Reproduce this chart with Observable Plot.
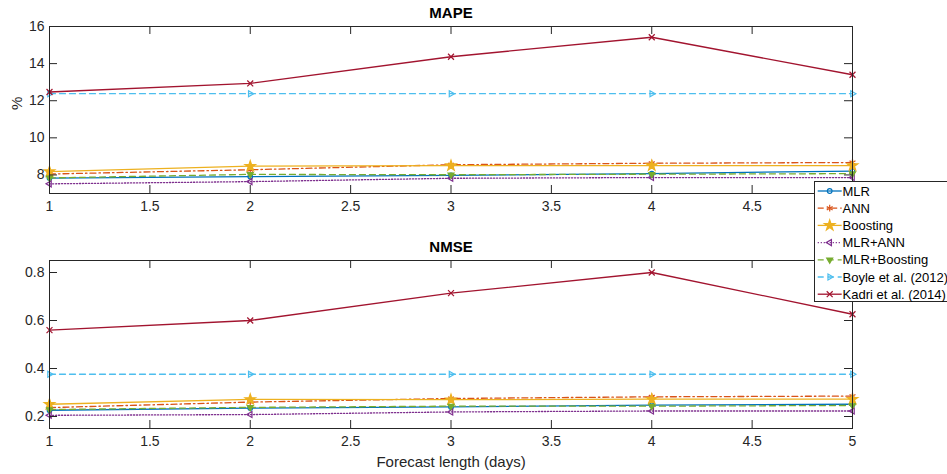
<!DOCTYPE html>
<html><head><meta charset="utf-8">
<script src="https://cdn.jsdelivr.net/npm/d3@7"></script>
<script src="https://cdn.jsdelivr.net/npm/@observablehq/plot@0.6"></script>
<style>
body{margin:0;background:#fff}
#wrap{position:relative;width:947px;height:474px;overflow:hidden;font-family:"Liberation Sans",Arial,sans-serif;background:#fff}
#top,#bottom,#legend{position:absolute;left:0}
#top{top:0}
#bottom{top:232px}
#legend{left:814px;top:181px;z-index:5}
</style>
</head><body><div id="wrap"><div id="top"></div><div id="bottom"></div><div id="legend"></div></div>
<script>
// ---- data ----
const days = [1, 2, 3, 4, 5];
const xTicks = [1, 1.5, 2, 2.5, 3, 3.5, 4, 4.5, 5];
const xTickLabelsTop = [1, 1.5, 2, 2.5, 3, 3.5, 4, 4.5]; // "5" is hidden under the legend
const series = ["MLR", "ANN", "Boosting", "MLR+ANN", "MLR+Boosting", "Boyle et al. (2012)", "Kadri et al. (2014)"];

const mapeMLR      = [7.83, 7.91, 7.98, 8.07, 8.21];
const mapeANN      = [8.05, 8.28, 8.55, 8.63, 8.67];
const mapeBoost    = [8.18, 8.47, 8.50, 8.50, 8.50];
const mapeMLRANN   = [7.52, 7.64, 7.82, 7.86, 7.86];
const mapeMLRBoost = [7.84, 8.03, 8.01, 8.04, 8.07];
const mapeBoyle    = [12.38, 12.38, 12.38, 12.38, 12.38];
const mapeKadri    = [12.47, 12.93, 14.37, 15.42, 13.40];
const mapeTicks    = [8, 10, 12, 14, 16];

const nmseMLR      = [0.226, 0.235, 0.240, 0.247, 0.251];
const nmseANN      = [0.237, 0.260, 0.275, 0.282, 0.285];
const nmseBoost    = [0.251, 0.271, 0.270, 0.272, 0.272];
const nmseMLRANN   = [0.205, 0.208, 0.219, 0.223, 0.223];
const nmseMLRBoost = [0.229, 0.238, 0.243, 0.243, 0.246];
const nmseBoyle    = [0.376, 0.376, 0.376, 0.376, 0.376];
const nmseKadri    = [0.560, 0.600, 0.714, 0.800, 0.626];
const nmseTicks    = [0.2, 0.4, 0.6, 0.8];

// ---- styles ----
const colors = ["#0072BD", "#D95319", "#EDB120", "#7E2F8E", "#77AC30", "#4DBEEE", "#A2142F"];
const dashes = [null, "6,3,1.5,3", null, "1.2,1.8", "6,4", "6,4", null];
function tri(angle) {
  return {draw(ctx, size) {
    const r = Math.sqrt(size / Math.PI) * 1.15;
    const p = [0, 1, 2].map(i => { const a = angle + i * 2 * Math.PI / 3; return [r * Math.cos(a), r * Math.sin(a)]; });
    ctx.moveTo(p[0][0], p[0][1]); ctx.lineTo(p[1][0], p[1][1]); ctx.lineTo(p[2][0], p[2][1]); ctx.closePath();
  }};
}
const symbols = [d3.symbolCircle, d3.symbolAsterisk, d3.symbolStar, tri(Math.PI), tri(Math.PI / 2), tri(0), d3.symbolTimes];
const fills = ["none", "none", "#EDB120", "none", "#77AC30", "none", "none"];
const radii = [2.3, 3.2, 3.3, 3, 3, 3, 2.8];
const axisColor = "#262626";
const FONT = "'Liberation Sans', Arial, Helvetica, sans-serif";

function panel({values, domain, yTicks, xLabelTicks, title, height, marginTop, marginBottom, xLabel, yLabel}) {
  const marginLeft = 49, marginRight = 95, width = 947;
  const fw = width - marginLeft - marginRight;
  const fh = height - marginTop - marginBottom;
  const marks = [];
  series.forEach((s, i) => {
    const rows = days.map((d, j) => ({day: d, value: values[i][j], series: s}));
    marks.push(Plot.line(rows, {x: "day", y: "value", stroke: colors[i], strokeWidth: 1.3, strokeDasharray: dashes[i]}));
    marks.push(Plot.dot(rows, {x: "day", y: "value", stroke: colors[i], fill: fills[i], r: radii[i], symbol: symbols[i], strokeWidth: 1.2}));
  });
  marks.push(Plot.frame({stroke: axisColor, strokeWidth: 1}));
  marks.push(Plot.tickX(xTicks, {x: d => d, stroke: axisColor, insetTop: fh - 8}));
  marks.push(Plot.tickX(xTicks, {x: d => d, stroke: axisColor, insetBottom: fh - 8}));
  marks.push(Plot.tickY(yTicks, {y: d => d, stroke: axisColor, insetRight: fw - 8}));
  marks.push(Plot.tickY(yTicks, {y: d => d, stroke: axisColor, insetLeft: fw - 8}));
  marks.push(Plot.axisX(xLabelTicks, {tickSize: 0, tickPadding: 8, tickFormat: d => String(d), fontSize: 14, fill: axisColor, label: null}));
  marks.push(Plot.axisY(yTicks, {tickSize: 0, tickPadding: 5, tickFormat: d => String(d), fontSize: 14, fill: axisColor, label: null}));
  marks.push(Plot.text([title], {text: d => d, frameAnchor: "top", lineAnchor: "middle", dy: -13, fontSize: 15, fontWeight: "bold", fill: "#000"}));
  if (xLabel) marks.push(Plot.text([xLabel], {text: d => d, frameAnchor: "bottom", lineAnchor: "middle", dy: 34, fontSize: 15, fill: axisColor}));
  if (yLabel) marks.push(Plot.text([yLabel], {text: d => d, frameAnchor: "left", lineAnchor: "middle", dx: -32, rotate: -90, fontSize: 15, fill: axisColor}));
  return Plot.plot({
    width, height, marginLeft, marginRight, marginTop, marginBottom,
    style: {fontFamily: FONT, fontSize: "14px", color: axisColor, background: "transparent", overflow: "visible"},
    x: {domain: [1, 5], axis: null},
    y: {domain, axis: null},
    marks
  });
}

document.getElementById("top").appendChild(panel({
  values: [mapeMLR, mapeANN, mapeBoost, mapeMLRANN, mapeMLRBoost, mapeBoyle, mapeKadri],
  domain: [7, 16], yTicks: mapeTicks, xLabelTicks: xTickLabelsTop, title: "MAPE",
  height: 222, marginTop: 26, marginBottom: 29, yLabel: "%"
}));
document.getElementById("bottom").appendChild(panel({
  values: [nmseMLR, nmseANN, nmseBoost, nmseMLRANN, nmseMLRBoost, nmseBoyle, nmseKadri],
  domain: [0.15, 0.85], yTicks: nmseTicks, xLabelTicks: xTicks, title: "NMSE",
  height: 242, marginTop: 28, marginBottom: 46, xLabel: "Forecast length (days)"
}));

// ---- legend ----
(function () {
  const w = 133, h = 121, rowH = 17.2, y0 = 10;
  const svg = d3.create("svg").attr("width", w).attr("height", h)
    .style("font-family", FONT).style("font-size", "13px").style("display", "block");
  svg.append("rect").attr("x", 0.5).attr("y", 0.5).attr("width", w + 5).attr("height", h - 1)
    .attr("fill", "#fff").attr("stroke", axisColor).attr("stroke-width", 1);
  series.forEach((s, i) => {
    const y = y0 + i * rowH;
    const g = svg.append("g");
    g.append("line").attr("x1", 3.7).attr("x2", 27.7).attr("y1", y).attr("y2", y)
      .attr("stroke", colors[i]).attr("stroke-width", 1.3).attr("stroke-dasharray", dashes[i]);
    g.append("path").attr("d", d3.symbol(symbols[i], radii[i] * radii[i] * Math.PI)())
      .attr("transform", `translate(15.7,${y})`).attr("fill", fills[i]).attr("stroke", colors[i]).attr("stroke-width", 1.2);
    g.append("text").attr("x", 28.5).attr("y", y).attr("dy", "0.35em").attr("fill", "#000").text(s);
  });
  document.getElementById("legend").appendChild(svg.node());
})();
</script>
</body></html>
